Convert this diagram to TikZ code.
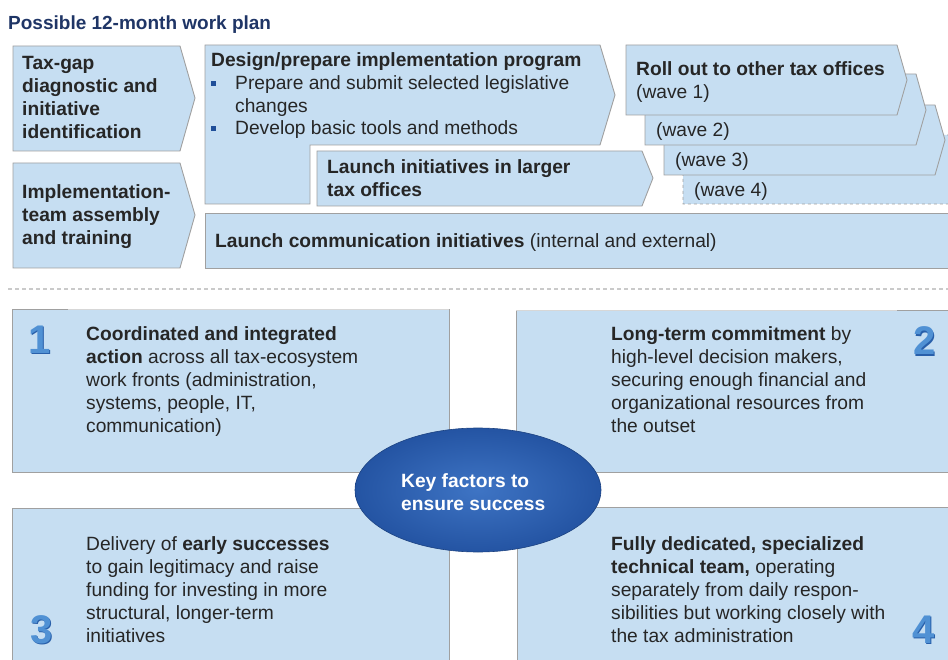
\documentclass[tikz,border=0pt]{standalone}
\usepackage{fontspec}
\setmainfont{Liberation Sans}
\definecolor{boxfill}{RGB}{198,222,242}
\definecolor{boxline}{RGB}{160,160,160}
\definecolor{boxlight}{RGB}{215,215,215}
\definecolor{txtgray}{RGB}{38,38,38}
\definecolor{navy}{RGB}{31,53,102}
\definecolor{numblue}{RGB}{80,145,212}
\definecolor{numdark}{RGB}{40,95,170}
\definecolor{keyin}{RGB}{62,116,196}
\definecolor{keyout}{RGB}{36,84,163}
\definecolor{bullet}{RGB}{31,78,153}
\tikzset{
  plan/.style={draw=boxline, fill=boxfill, line width=0.9pt},
  lbl/.style={anchor=base west, align=left, inner sep=0pt, text=txtgray,
              font=\fontsize{19.2}{23}\selectfont},
  num/.style={anchor=base, inner sep=0pt, font=\fontsize{40}{40}\selectfont\bfseries},
}
\begin{document}
\begin{tikzpicture}[x=1pt,y=-1pt]
\useasboundingbox (0,0) rectangle (948,660);
\clip (0,0) rectangle (948,660);
% note: base of a multi-line label is its last line

\node[anchor=base west, inner sep=0pt, text=navy, font=\fontsize{19}{20}\selectfont\bfseries]
  (title) at (8,30) {Possible 12-month work plan};

% first column
\draw [plan] (13,46) -- (180,46) -- (195,98) -- (180,151) -- (13,151) -- cycle; % tax gap
\node[lbl] (taxgap) at (22,139) {\bfseries Tax-gap\\\bfseries diagnostic and\\\bfseries initiative\\\bfseries identification};
\draw [plan] (13,163) -- (180,163) -- (195,215) -- (180,268) -- (13,268) -- cycle; % team
\node[lbl] (team) at (22,245) {\bfseries Implementation-\\\bfseries team assembly\\\bfseries and training};

% design / prepare
\draw [plan] (205,45) -- (600,45) -- (615,95) -- (600,145) -- (310,145) -- (310,204) -- (205,204) -- cycle;
\node[lbl] (design) at (211,67) {\bfseries Design/prepare implementation program};
\fill [bullet] (211,81) rectangle (216,86);
\node[lbl] (legis) at (235,113) {Prepare and submit selected legislative\\changes};
\fill [bullet] (211,126) rectangle (216,131);
\node[lbl] (tools) at (235,135) {Develop basic tools and methods};

% larger tax offices
\draw [plan] (317,151) -- (642,151) -- (653,178) -- (642,206) -- (317,206) -- cycle;
\node[lbl] (larger) at (327,197) {\bfseries Launch initiatives in larger\\\bfseries tax offices};

% roll out waves, last one first
\draw [plan, dashed] (683,135) -- (950,135) -- (970,170) -- (950,204) -- (683,204) -- cycle;
\node[lbl] (wave4) at (694,197) {(wave 4)};
\draw [plan] (664,105) -- (935,105) -- (945,140) -- (935,175) -- (664,175) -- cycle;
\node[lbl] (wave3) at (675,167) {(wave 3)};
\draw [plan] (645,74) -- (916,74) -- (926,110) -- (916,145) -- (645,145) -- cycle;
\node[lbl] (wave2) at (656,137) {(wave 2)};
\draw [plan] (626,45) -- (897,45) -- (907,80) -- (897,115) -- (626,115) -- cycle;
\node[lbl] (wave1) at (636,99) {\bfseries Roll out to other tax offices\\(wave 1)};

% communication
\draw [plan] (205,213) rectangle (960,268);
\node[lbl] (comm) at (215,248) {\textbf{Launch communication initiatives} (internal and external)};

\draw [boxlight!85!gray, line width=1.8pt, dash pattern=on 4pt off 3pt] (8,289) -- (948,289);

% key factors
\draw [plan] (12,309) rectangle (449,472);
\draw [boxlight, line width=0.9pt] (68,309) -- (449,309);
\draw [plan] (516,310) rectangle (960,472);
\draw [boxlight, line width=0.9pt] (516,310) -- (897,310);
\draw [plan] (12,508) rectangle (449,680);
\draw [plan] (517,507) rectangle (960,680);

\node[lbl] (fac1) at (86,432) {\textbf{Coordinated and integrated}\\\textbf{action} across all tax-ecosystem\\work fronts (administration,\\systems, people, IT,\\communication)};
\node[lbl] (fac2) at (611,432) {\textbf{Long-term commitment} by\\high-level decision makers,\\securing enough financial and\\organizational resources from\\the outset};
\node[lbl] (fac3) at (86,642) {Delivery of \textbf{early successes}\\to gain legitimacy and raise\\funding for investing in more\\structural, longer-term\\initiatives};
\node[lbl] (fac4) at (611,642) {\textbf{Fully dedicated, specialized}\\\textbf{technical team,} operating\\separately from daily respon-\\sibilities but working closely with\\the tax administration};

\node[num, text=numdark] at (41,355) {1};
\node[num, text=numblue] (n1) at (40,354) {1};
\node[num, text=numdark] at (925.5,356) {2};
\node[num, text=numblue] (n2) at (924.5,355) {2};
\node[num, text=numdark] at (43,644) {3};
\node[num, text=numblue] (n3) at (42,643) {3};
\node[num, text=numdark] at (925,644) {4};
\node[num, text=numblue] (n4) at (924,643) {4};

\shade [inner color=keyin, outer color=keyout] (478,490) ellipse [x radius=123pt, y radius=62pt];
\draw [keyout!80!black, line width=0.6pt] (478,490) ellipse [x radius=123pt, y radius=62pt];
\node[lbl, text=white] (key) at (401,510) {\bfseries Key factors to\\\bfseries ensure success};

\end{tikzpicture}
\end{document}
